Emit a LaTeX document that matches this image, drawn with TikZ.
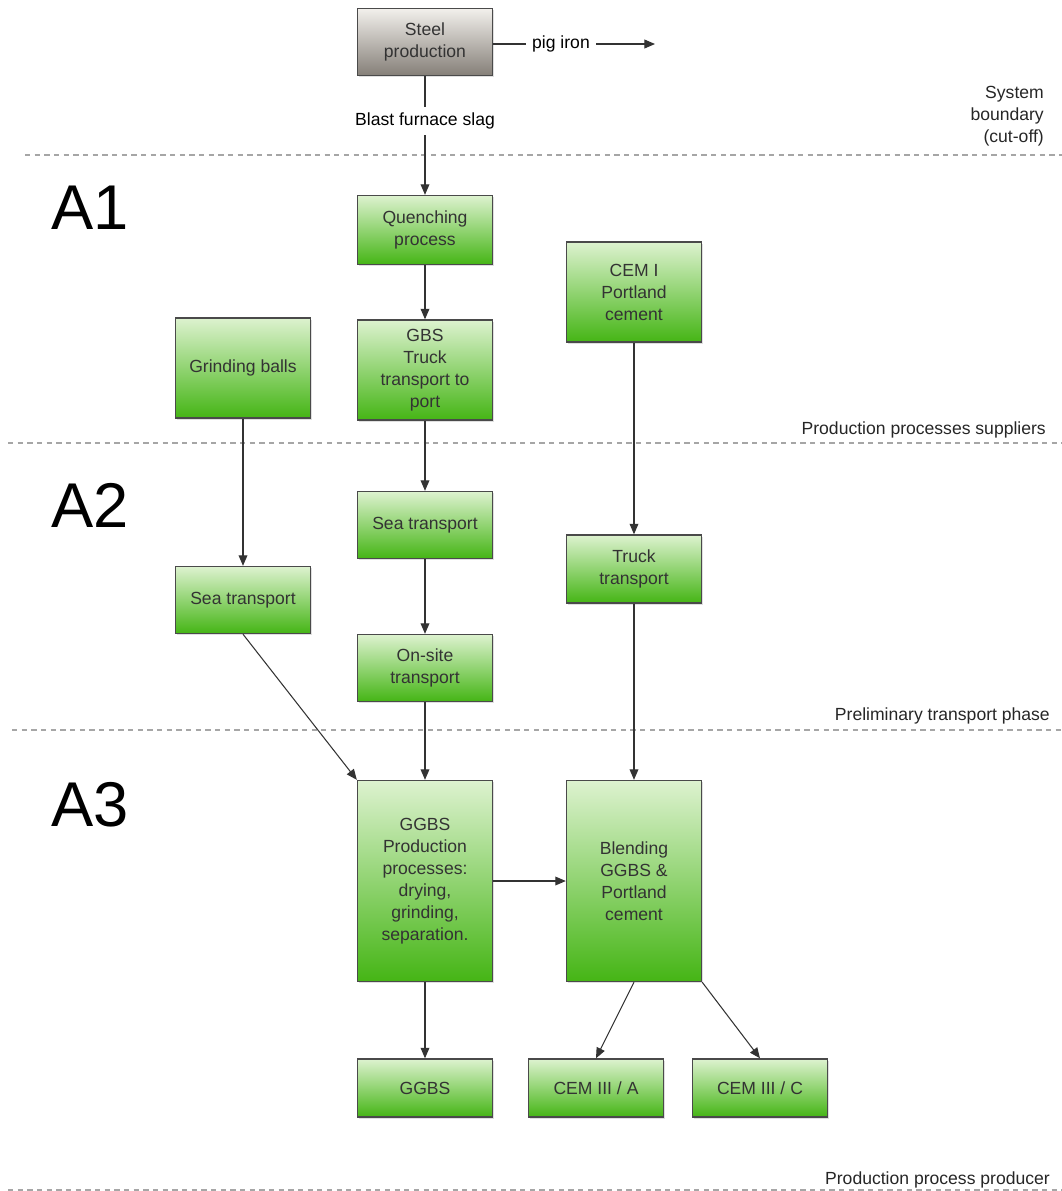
\documentclass[tikz,border=0pt]{standalone}
\usepackage{fontspec}
\setmainfont{Liberation Sans}
\usepackage{tikz}
\usetikzlibrary{positioning,arrows.meta,shadows,calc}

\definecolor{boxtop}{HTML}{DDF2CF}
\definecolor{boxbot}{HTML}{45B515}
\definecolor{steeltop}{HTML}{F2F0EC}
\definecolor{steelbot}{HTML}{857F78}
\definecolor{edgegray}{HTML}{4A4A4A}

\begin{document}
\begin{tikzpicture}[x=0.02cm, y=-0.02cm,
        font=\fontsize{10}{12.5}\selectfont,
        procbox/.style={
            rectangle,
            draw=edgegray,
            thick,
            top color=boxtop,
            bottom color=boxbot,
            align=center,
            text=black!80,
            minimum width=2.7cm,
            inner sep=2pt,
            drop shadow={opacity=0.25, shadow xshift=1pt, shadow yshift=-1pt}
        },
        steelbox/.style={procbox, top color=steeltop, bottom color=steelbot},
        flow/.style={-{Triangle[length=6pt,width=5pt]}, semithick, draw=black!80},
        boundary/.style={gray!70, thick, dash pattern=on 3pt off 2.5pt},
        phase/.style={font=\fontsize{36}{40}\selectfont},
        sidenote/.style={align=right, anchor=east, text=black!85}
    ]
    \useasboundingbox (0,0) rectangle (1062,1191);

    % top: steel production (outside the system)
    \node[steelbox, minimum height=1.34cm] (steel) at (425,42) {Steel\\production};
    \node (pig) at (561,44) {pig iron};
    \coordinate (pigend) at (655,44);
    \node (slag) at (425,121) {Blast furnace slag};
    \draw[semithick, black!80] (steel.east |- pig.west) -- (pig.west);
    \draw[flow] (pig) -- (pigend);
    \draw[semithick, black!80] (steel) -- (slag);

    % phase labels
    \node[phase] (a1) at (90,208) {A1};
    \node[phase] (a2) at (90,505) {A2};
    \node[phase] (a3) at (90,805) {A3};

    % boundaries
    \draw[boundary] (25,155) -- (1062,155);
    \draw[boundary] (8,443) -- (1062,443);
    \draw[boundary] (12,730) -- (1062,730);
    \draw[boundary] (8,1190) -- (1062,1190);
    \node[sidenote] (sysb) at (1050,116) {System\\boundary\\(cut-off)};
    \node[sidenote] (supl) at (1052,430) {Production processes suppliers};
    \node[sidenote] (prel) at (1056,716) {Preliminary transport phase};
    \node[sidenote] (prod) at (1056,1180) {Production process producer};

    % A1 suppliers
    \node[procbox, minimum height=1.38cm] (quench) at (425,230) {Quenching\\process};
    \node[procbox, minimum height=2cm] (gbs) at (425,370) {GBS\\Truck\\transport to\\port};
    \node[procbox, minimum height=2cm] (balls) at (243,368) {Grinding balls};
    \node[procbox, minimum height=2cm] (cem1) at (634,292) {CEM I\\Portland\\cement};

    % A2 transport
    \node[procbox, minimum height=1.34cm] (seamid) at (425,525) {Sea transport};
    \node[procbox, minimum height=1.36cm] (truck) at (634,569) {Truck\\transport};
    \node[procbox, minimum height=1.34cm] (sealeft) at (243,600) {Sea transport};
    \node[procbox, minimum height=1.34cm] (onsite) at (425,668) {On-site\\transport};

    % A3 production
    \node[procbox, minimum height=4.02cm] (ggbsproc) at (425,881) {GGBS\\Production\\processes:\\drying,\\grinding,\\separation.};
    \node[procbox, minimum height=4.02cm] (blend) at (634,881) {Blending\\GGBS \&\\Portland\\cement};
    \node[procbox, minimum height=1.16cm] (ggbs) at (425,1088) {GGBS};
    \node[procbox, minimum height=1.16cm] (cem3a) at (596,1088) {CEM III / A};
    \node[procbox, minimum height=1.16cm] (cem3c) at (760,1088) {CEM III / C};

    % flows
    \draw[flow] (slag) -- (quench);
    \draw[flow] (quench) -- (gbs);
    \draw[flow] (gbs) -- (seamid);
    \draw[flow] (seamid) -- (onsite);
    \draw[flow] (onsite) -- (ggbsproc);
    \draw[flow] (balls) -- (sealeft);
    \draw[flow] (sealeft.south) -- (ggbsproc.north west);
    \draw[flow] (cem1) -- (truck);
    \draw[flow] (truck) -- (blend);
    \draw[flow] (ggbsproc) -- (blend);
    \draw[flow] (ggbsproc) -- (ggbs);
    \draw[flow] (blend.south) -- (cem3a.north);
    \draw[flow] (blend.south east) -- (cem3c.north);
\end{tikzpicture}
\end{document}
